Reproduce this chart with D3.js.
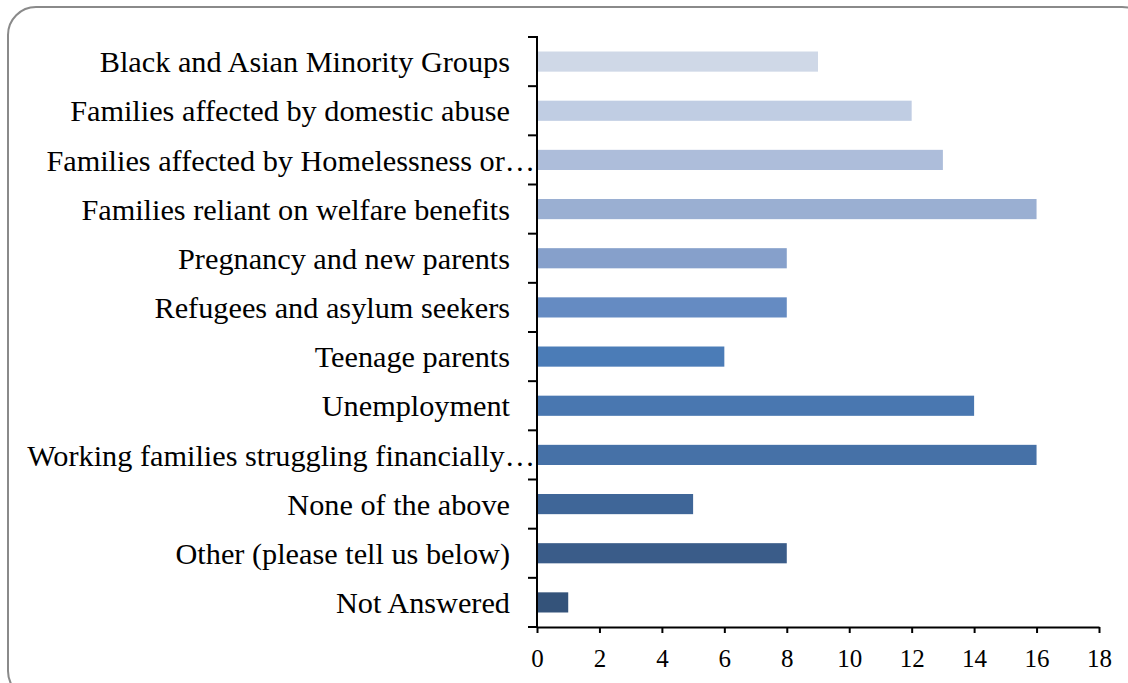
<!DOCTYPE html>
<html><head><meta charset="utf-8">
<script src="https://cdn.jsdelivr.net/npm/d3@7"></script>
<style>html,body{margin:0;padding:0;background:#fff;}svg{display:block;}</style>
</head><body>
<svg id="chart" width="1128" height="683"></svg>
<script>
const categories = [
  "Black and Asian Minority Groups",
  "Families affected by domestic abuse",
  "Families affected by Homelessness or…",
  "Families reliant on welfare benefits",
  "Pregnancy and new parents",
  "Refugees and asylum seekers",
  "Teenage parents",
  "Unemployment",
  "Working families struggling financially…",
  "None of the above",
  "Other (please tell us below)",
  "Not Answered"
];
const values = [9, 12, 13, 16, 8, 8, 6, 14, 16, 5, 8, 1];
const barColors = ["#CFD8E7","#C0CDE3","#ADBDDA","#9AAFD2","#86A0CB","#658BC2",
                   "#4B7CB7","#4977B0","#4671A7","#3F6698","#3A5C89","#34537A"];
const xTicks = [0, 2, 4, 6, 8, 10, 12, 14, 16, 18];

const svg = d3.select("#chart");
const fontFam = "'Liberation Serif', 'DejaVu Serif', serif";

// outer rounded frame
svg.append("rect").attr("x", 8).attr("y", 7).attr("width", 1142).attr("height", 692)
  .attr("rx", 28).attr("ry", 28).attr("fill", "#fff")
  .attr("stroke", "#8a8a8a").attr("stroke-width", 2);

const x0 = 537, x1 = 1099, yTop = 37, yBot = 627;
const x = d3.scaleLinear().domain([0, 18]).range([x0, x1]);
const y = d3.scaleBand().domain(categories).range([yTop, yBot]).paddingInner(0.59).paddingOuter(0.295);

// bars
svg.append("g").selectAll("rect").data(values).join("rect")
  .attr("x", x(0))
  .attr("y", (d, i) => y(categories[i]))
  .attr("width", d => x(d) - x(0))
  .attr("height", y.bandwidth())
  .attr("fill", (d, i) => barColors[i]);

// x axis
const xAxis = d3.axisBottom(x).tickValues(xTicks).tickSize(6).tickSizeOuter(0).tickPadding(16);
const gx = svg.append("g").attr("transform", `translate(0,${yBot})`).call(xAxis);
gx.attr("font-family", fontFam).attr("font-size", 25);
gx.select(".domain").attr("stroke", "#000").attr("stroke-width", 2);
gx.selectAll(".tick line").attr("stroke", "#000").attr("stroke-width", 2);
gx.selectAll(".tick text").attr("fill", "#000").attr("font-size", 25);

// y axis line + boundary ticks
const step = (yBot - yTop) / categories.length;
const bounds = d3.range(categories.length + 1).map(i => yTop + i * step);
svg.append("line").attr("x1", x0).attr("x2", x0).attr("y1", yTop).attr("y2", yBot)
  .attr("stroke", "#000").attr("stroke-width", 2);
svg.append("g").selectAll("line").data(bounds).join("line")
  .attr("x1", x0 - 9).attr("x2", x0 + 1).attr("y1", d => d).attr("y2", d => d)
  .attr("stroke", "#000").attr("stroke-width", 2);

// category labels (truncated labels sit closer to the axis, as in the reference)
const labels = svg.append("g").selectAll("text").data(categories).join("text")
  .attr("x", d => d.endsWith("…") ? x0 - 2 : x0 - 27)
  .attr("y", d => y(d) + y.bandwidth() / 2)
  .attr("dy", "0.35em")
  .attr("text-anchor", "end")
  .attr("font-family", fontFam)
  .attr("fill", "#000")
  .text(d => d);

// fit font size so the longest label spans ~508px like the reference
labels.attr("font-size", 100);
const w = labels.nodes()[8].getComputedTextLength();
labels.attr("font-size", 100 * 508 / w);
</script>
</body></html>
